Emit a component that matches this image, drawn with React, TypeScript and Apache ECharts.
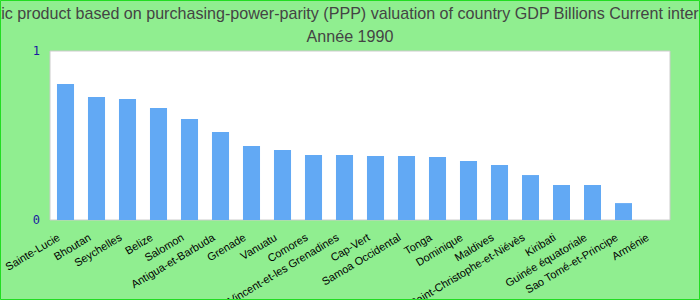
import React, { useEffect, useRef } from "react";
import * as echarts from "echarts";

const categories = [
  "Sainte-Lucie",
  "Bhoutan",
  "Seychelles",
  "Belize",
  "Salomon",
  "Antigua-et-Barbuda",
  "Grenade",
  "Vanuatu",
  "Comores",
  "Saint-Vincent-et-les Grenadines",
  "Cap-Vert",
  "Samoa Occidental",
  "Tonga",
  "Dominique",
  "Maldives",
  "Saint-Christophe-et-Niévès",
  "Kiribati",
  "Guinée équatoriale",
  "Sao Tomé-et-Principe",
  "Arménie",
];

const values = [
  0.805, 0.728, 0.716, 0.663, 0.598, 0.521, 0.438, 0.414, 0.385, 0.385,
  0.379, 0.379, 0.373, 0.349, 0.325, 0.266, 0.207, 0.207, 0.1, 0,
];

const titleLine1 =
  "Gross domestic product based on purchasing-power-parity (PPP) valuation of country GDP Billions Current international dollar";
const titleLine2 = "Année 1990";

export default function App() {
  const ref = useRef<HTMLDivElement>(null);
  useEffect(() => {
    if (!ref.current) return;
    const chart = echarts.init(ref.current, null, { renderer: "svg" });
    chart.setOption({
      animation: false,
      backgroundColor: "#90ee90",
      graphic: [
        {
          type: "rect",
          shape: { x: 0.5, y: 0.5, width: 699, height: 299 },
          style: { fill: "none", stroke: "#22dd22", lineWidth: 1 },
          z: 100,
        },
      ],
      title: {
        text: titleLine1 + "\n" + titleLine2,
        left: "center",
        top: -4,
        textStyle: {
          fontFamily: "Liberation Sans, Arial, sans-serif",
          fontSize: 16.1,
          fontWeight: "normal",
          color: "#444",
          lineHeight: 23,
        },
      },
      grid: {
        left: 50,
        right: 30,
        top: 51,
        bottom: 80,
        outerBoundsMode: "none",
        containLabel: false,
        show: true,
        backgroundColor: "#ffffff",
        borderColor: "#cccccc",
        borderWidth: 1,
      },
      xAxis: {
        type: "category",
        data: categories,
        axisTick: { show: false },
        axisLine: { show: false },
        axisLabel: {
          interval: 0,
          rotate: 31,
          color: "#000",
          fontSize: 11,
          fontFamily: "Liberation Sans, Arial, sans-serif",
          margin: 12,
          padding: [0, 8, 0, 0],
        },
      },
      yAxis: {
        type: "value",
        min: 0,
        max: 1,
        interval: 1,
        splitLine: { show: false },
        axisLine: { show: false },
        axisTick: { show: false },
        axisLabel: {
          color: "#1a1aa0",
          fontSize: 12,
          fontFamily: "DejaVu Sans Mono, monospace",
          margin: 10,
        },
      },
      series: [
        {
          type: "bar",
          data: values,
          barWidth: "55%",
          itemStyle: { color: "#62a9f4" },
        },
      ],
    });
    return () => chart.dispose();
  }, []);
  return (
    <div
      ref={ref}
      style={{ position: "absolute", left: 0, top: 0, width: 700, height: 300 }}
    />
  );
}
